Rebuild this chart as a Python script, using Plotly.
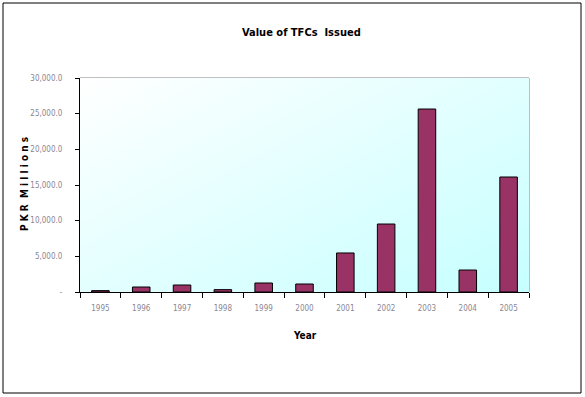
import plotly.graph_objects as go
import numpy as np

years = ["1995", "1996", "1997", "1998", "1999", "2000", "2001", "2002", "2003", "2004", "2005"]
values = [190, 700, 980, 330, 1260, 1120, 5470, 9530, 25650, 3080, 16120]
ytick_vals = [0, 5000, 10000, 15000, 20000, 25000, 30000]
ytick_text = ["-", "5,000.0", "10,000.0", "15,000.0", "20,000.0", "25,000.0", "30,000.0"]

W, H = 585, 397
L, R, T, B = 80, 56, 78, 105
pw, ph = W - L - R, H - T - B

FONT = "DejaVu Sans Condensed, Liberation Sans Narrow, Arial Narrow, Liberation Sans, sans-serif"
TICKCOL = "#8a8694"

# background gradient (decoration)
n = 40
gx = np.linspace(0, 1, n)
gy = np.linspace(0, 1, n)
gz = [[xx * 0.6 + (1 - yy) * 0.55 for xx in gx] for yy in gy]

fig = go.Figure()
fig.add_trace(go.Heatmap(x=gx, y=gy, z=gz, zsmooth="best", showscale=False,
                         colorscale=[[0, "#ffffff"], [1, "#c6ffff"]],
                         hoverinfo="skip", xaxis="x", yaxis="y"))
fig.add_trace(go.Bar(x=years, y=values, marker=dict(color="#993366", line=dict(color="#000000", width=1)),
                     xaxis="x2", yaxis="y2"))

ytitle = " ".join(list("PKR")) + "&nbsp; " + " ".join(list("Millions"))

fig.update_layout(
    width=W, height=H,
    margin=dict(l=L, r=R, t=T, b=B),
    paper_bgcolor="white", plot_bgcolor="white",
    showlegend=False, bargap=0.57,
    font=dict(family=FONT, size=8, color=TICKCOL),
    xaxis=dict(range=[0, 1], visible=False, fixedrange=True),
    yaxis=dict(range=[0, 1], visible=False, fixedrange=True),
    xaxis2=dict(overlaying="x", anchor="y2", showline=True, linecolor="black", linewidth=1,
                ticks="outside", ticklen=5, tickcolor="black", tickson="boundaries",
                showgrid=False, zeroline=False, tickfont=dict(family=FONT, size=8, color=TICKCOL),
                ticklabelstandoff=8),
    yaxis2=dict(overlaying="y", anchor="x2", range=[0, 30000], showline=True, linecolor="black", linewidth=1,
                ticks="outside", ticklen=4, tickcolor="black", tickvals=ytick_vals, ticktext=ytick_text,
                showgrid=False, zeroline=False, tickfont=dict(family=FONT, size=8, color=TICKCOL),
                ticklabelstandoff=11),
    shapes=[
        dict(type="rect", xref="paper", yref="paper", x0=0, x1=1, y0=0, y1=1,
             line=dict(color="#808080", width=1), layer="below", fillcolor="rgba(0,0,0,0)"),
        dict(type="rect", xref="paper", yref="paper",
             x0=(3 - L) / pw, x1=(581 - L) / pw, y0=(H - B - 393) / ph, y1=(H - B - 3) / ph,
             line=dict(color="black", width=1), fillcolor="rgba(0,0,0,0)"),
    ],
    annotations=[
        dict(text="<b>Value of TFCs  Issued</b>", xref="paper", yref="paper",
             x=(301 - L) / pw, y=(H - B - 33) / ph, showarrow=False,
             font=dict(family=FONT, size=11, color="black"), xanchor="center", yanchor="middle"),
        dict(text="<b>Year</b>", xref="paper", yref="paper",
             x=(305 - L) / pw, y=(H - B - 335) / ph, showarrow=False,
             font=dict(family=FONT, size=10, color="black"), xanchor="center", yanchor="middle"),
        dict(text="<b>" + ytitle + "</b>", xref="paper", yref="paper",
             x=(24 - L) / pw, y=(H - B - 184) / ph, showarrow=False, textangle=-90,
             font=dict(family=FONT, size=10, color="black"), xanchor="center", yanchor="middle"),
    ],
)

fig.write_html("out.html")
